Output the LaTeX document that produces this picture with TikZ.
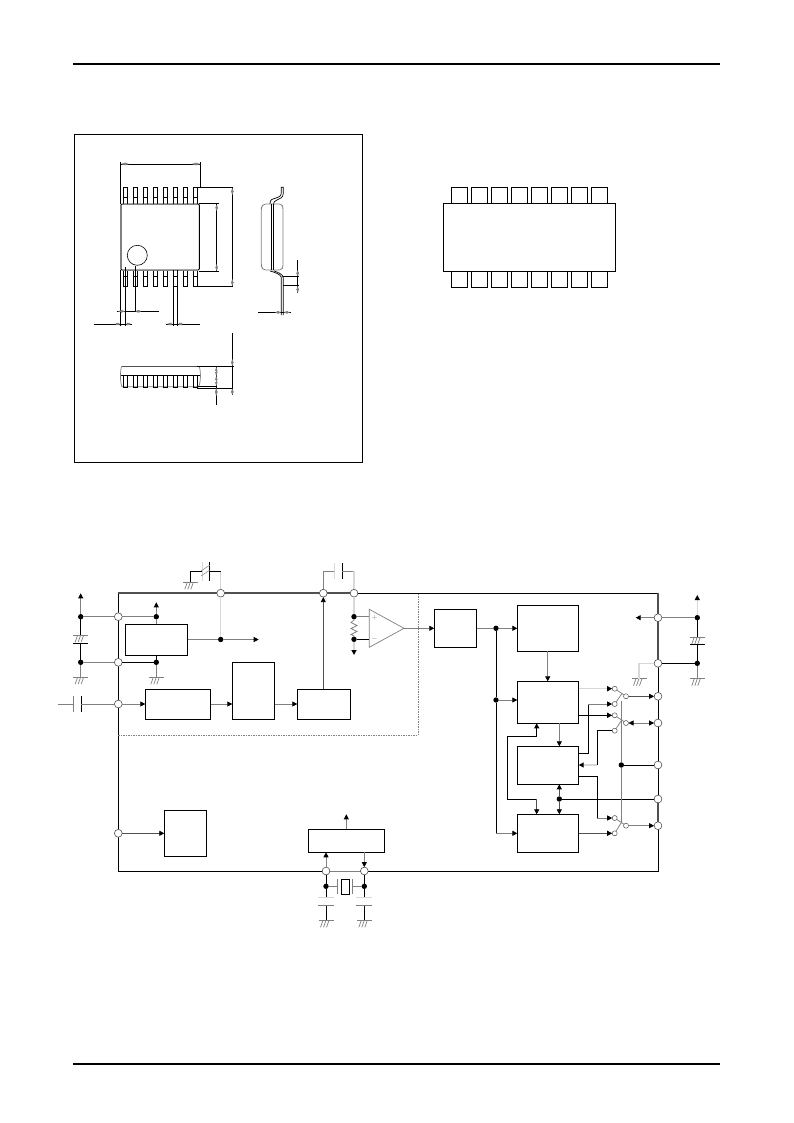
\documentclass[tikz,border=0pt]{standalone}
\usetikzlibrary{arrows.meta,calc}
\definecolor{gy}{HTML}{808080}
\definecolor{lg}{HTML}{D8D8D8}
\definecolor{dg}{HTML}{505050}
\tikzset{
 bk/.style={draw=black,line width=.9pt},
 gl/.style={draw=gy,line width=.75pt},
 ll/.style={draw=lg,line width=1.3pt},
 dl/.style={draw=dg,line width=1.6pt},
 ml/.style={draw=dg,line width=.8pt},
 arw/.style={-{Triangle[length=5pt,width=5pt,color=black]}},
 dim/.style={draw=black,line width=.8pt},
 dimtip/.style={draw=gy,line width=.4pt,{Triangle[length=4pt,width=2.4pt,color=gy]}-{Triangle[length=4pt,width=2.4pt,color=gy]}},
 blk/.style={draw=black,line width=.9pt,fill=white,inner sep=0pt,outer sep=0pt,rectangle},
 icpin/.style={draw=black,line width=.9pt,fill=white,inner sep=0pt,outer sep=0pt,rectangle},
 pkgpin/.style={draw=black,line width=.8pt,inner sep=0pt,outer sep=0pt,rectangle,minimum width=4pt},
 padc/.style={circle,draw=dg,line width=.6pt,fill=white,inner sep=0pt,outer sep=0pt,minimum size=7.8pt},
 swc/.style={circle,draw=dg,line width=.5pt,fill=white,inner sep=0pt,outer sep=0pt,minimum size=5pt},
 jdot/.style={circle,fill=black,inner sep=0pt,outer sep=0pt,minimum size=5.4pt},
 gndline/.style={draw=gy,line width=.7pt},
}
\newcommand{\bx}[6][blk]{\node[#1,minimum width={((#5)-(#3))*1pt},minimum height={((#6)-(#4))*1pt}] (#2) at ({((#3)+(#5))/2},{((#4)+(#6))/2}) {};}
\newcommand{\pad}[3]{\node[padc] (#1) at (#2,#3) {};}
\newcommand{\jd}[3]{\node[jdot] (#1) at (#2,#3) {};}
\newcommand{\sw}[3]{\node[swc] (#1) at (#2,#3) {};}
% ground symbol: named coordinate at the top centre
\newcommand{\gnd}[3]{\coordinate (#1) at (#2,#3);
 \draw[gndline] ($(#1)+(-7.5,0)$) -- ($(#1)+(7.5,0)$);
 \foreach \dx in {-3,0,3}{\draw[gndline] ($(#1)+(\dx,0)$) -- ($(#1)+(\dx-2.5,7)$);}}
\begin{document}
\begin{tikzpicture}[x=1pt,y=-1pt]
\useasboundingbox (0,0) rectangle (794,1123);
\fill[white] (0,0) rectangle (794,1123);
% page rules
\coordinate (ruleAl) at (73,64); \coordinate (ruleAr) at (720,64);
\coordinate (ruleBl) at (73,1063.5); \coordinate (ruleBr) at (720,1063.5);
\draw[line width=2pt] (ruleAl) -- (ruleAr);
\draw[line width=2pt] (ruleBl) -- (ruleBr);
% package frame
\draw[line width=.9pt] (74.5,134.5) rectangle (362,462);
% ---- top view
\foreach \i in {0,...,7}{
 \node[pkgpin,minimum height=16.7pt] at ({125.3+10*\i},195.7) {};
 \draw[line width=.7pt] ({123.3+10*\i},197) -- ({127.3+10*\i},197);
 \node[pkgpin,minimum height=16.7pt] at ({125.3+10*\i},278.4) {};
 \draw[line width=.7pt] ({123.3+10*\i},276.7) -- ({127.3+10*\i},276.7);
}
\draw[line width=.9pt,rounded corners=1pt,fill=white] (120.9,204) rectangle (199.3,270);
\draw[gy,line width=1.8pt] (120.7,205) -- (120.7,269);
\draw[gy,line width=.9pt] (122,204) -- (198,204) (122,270) -- (198,270);
\draw[line width=.6pt] (137.3,255.3) circle (10);
% top-view dimensions
\draw[dim] (120.5,162) -- (120.5,204) (200.5,162) -- (200.5,187.5);
\draw[dim] (120.5,164) -- (200.5,164);
\draw[dimtip] (121,164) -- (129,164);
\draw[dimtip] (192,164) -- (200,164);
\draw[dim] (197,187.7) -- (233,187.7) (197,286.7) -- (233,286.7);
\draw[dim] (232.3,187.7) -- (232.3,286.7);
\draw[dimtip] (232.3,188) -- (232.3,195);
\draw[dimtip] (232.3,279) -- (232.3,286);
\draw[dim] (199,203.7) -- (219,203.7) (199,271.5) -- (219,271.5);
\draw[dim] (216.7,204) -- (216.7,271);
\draw[dimtip] (216.7,204.5) -- (216.7,211);
\draw[dimtip] (216.7,264) -- (216.7,271);
\draw[dim] (120.5,270) -- (120.5,326) (125,267) -- (125,326) (135.3,266) -- (135.3,312);
\draw[dim] (117,311.3) -- (159,311.3);
\draw[dim] (93.7,324) -- (132,324);
\draw[dim] (173.3,270) -- (173.3,326) (177.7,270) -- (177.7,326);
\draw[dim] (166,324) -- (200,324);
\draw[dimtip] (115,324) -- (120,324);
\draw[dimtip] (125.5,324) -- (131,324);
\draw[dimtip] (167,324) -- (173,324);
\draw[dimtip] (178,324) -- (183,324);
\draw[dimtip] (118,311.3) -- (125,311.3);
\draw[dimtip] (135.5,311.3) -- (141,311.3);
% ---- side view
\draw[gy,line width=.7pt,rounded corners=3pt] (263,204) -- (261.3,208) -- (261.3,266) -- (263,270) -- (282,270) -- (283,266) -- (283,208) -- (282,204) -- cycle;
\draw[line width=.8pt] (271.7,204) -- (271.7,270);
\draw[line width=.8pt] (273.7,204) -- (273.7,270);
\draw[line width=.7pt] (270,204) .. controls (270,199) and (272,199.5) .. (276,198) .. controls (280,196.5) and (281.3,196) .. (281.3,192) -- (281.3,187.3) -- (283.3,187.3) -- (283.3,193) .. controls (283.3,198) and (280,198.5) .. (277,200) .. controls (274,201.5) and (273.7,202) .. (273.7,204);
\draw[line width=.7pt] (270,271) .. controls (274,272) and (280,274) .. (281.3,277) -- (281.3,315);
\draw[line width=.7pt] (274,271) .. controls (277,272) and (283.3,274) .. (283.3,278) -- (283.3,315);
\draw[dim] (258,312.3) -- (290.6,312.3);
\draw[dimtip] (275,312.3) -- (281,312.3);
\draw[dimtip] (283.6,312.3) -- (290,312.3);
\draw[dim] (283,276.7) -- (299,276.7) (283,285.7) -- (299,285.7);
\draw[dim] (297.7,260) -- (297.7,293);
\draw[dimtip] (297.7,270) -- (297.7,276.5);
\draw[dimtip] (297.7,286) -- (297.7,293);
% ---- front view
\draw[line width=.5pt,draw=dg] (121.7,366.3) -- (199,366.3);
\draw[gy,line width=.7pt] (121.7,366.3) .. controls (120,370) and (120,383) .. (122,386.7) -- (198.5,386.7) .. controls (201,383) and (201,370) .. (199,366.3);
\draw[line width=.9pt] (121,375.7) -- (200,375.7);
\foreach \i in {0,...,7}{
 \draw[line width=.8pt] ({123.3+10*\i},375.7) -- ({123.3+10*\i},387.7) -- ({127.3+10*\i},387.7) -- ({127.3+10*\i},375.7);
}
\draw[dim] (197.3,366.3) -- (233.7,366.3) (197.3,388.3) -- (233,388.3) (197.3,386) -- (217,386);
\draw[dim] (232.3,333.3) -- (232.3,395);
\draw[dim] (216.3,366) -- (216.3,405);
\draw[dimtip] (232.3,359) -- (232.3,366);
\draw[dimtip] (232.3,388.5) -- (232.3,395);
\draw[dimtip] (216.3,367) -- (216.3,376);
\draw[dimtip] (216.3,376) -- (216.3,386);
\draw[dimtip] (216.3,388) -- (216.3,396);
% ---- IC pin-out
\foreach \i in {0,...,7}{
 \bx[icpin]{ict\i}{451.3+20*\i}{187.3}{467.3+20*\i}{204}
 \bx[icpin]{icb\i}{451.3+20*\i}{271.5}{467.3+20*\i}{287.3}
}
\bx{icbody}{443.3}{203.3}{615.3}{271.7}
% ====== Block diagram
% outline
\coordinate (nw) at (118.3,593.2); \coordinate (sw) at (118.3,871);
\coordinate (ne) at (658,593.2); \coordinate (se) at (658,871);
\coordinate (tbrk) at (354,593.2); \coordinate (rbrk) at (658,663.3);
\draw[bk] (tbrk) -- (ne);
\draw[bk] (rbrk) -- (se) -- (sw) -- (nw);
\draw[dl] (nw) -- (tbrk);
\draw[dl] (ne) -- (rbrk);
\draw[dl] (658,799) -- (658,825.7);
\draw[gy,line width=.7pt,dash pattern=on 1.5pt off 1pt] (118.3,735) -- (418.3,735) -- (418.3,593.2);
% pads
\pad{pL1}{118.3}{616.7} \pad{pL2}{118.3}{662.3} \pad{pL3}{118.3}{704} \pad{pL4}{118.3}{833.3}
\pad{pT1}{220.7}{593.2} \pad{pT2}{323.3}{593.2} \pad{pT3}{354}{593.2}
\pad{pR1}{658}{617.7} \pad{pR2}{658}{663.3} \pad{pR3}{658}{696.3} \pad{pR4}{658}{723} \pad{pR5}{658}{765} \pad{pR6}{658}{799} \pad{pR7}{658}{825.7}
\pad{pB1}{326}{871} \pad{pB2}{364.3}{871}
% blocks
\bx{b1}{125.3}{624.3}{187.7}{655.3}
\bx{b2}{145.3}{689.3}{210.7}{719.3}
\bx{b3}{232.3}{662.3}{274.7}{719.3}
\bx{b4}{297.3}{689.3}{350.7}{719.3}
\bx{b5}{434.3}{609.3}{476.7}{647.3}
\bx{b6}{517.3}{605.3}{578.7}{651.3}
\bx{b7}{517.3}{681.3}{578.7}{723.3}
\bx{b8}{517.3}{746.3}{578.7}{784.3}
\bx{b9}{517.3}{814.3}{578.7}{852.3}
\bx{b10}{164.3}{810.3}{206.7}{856.7}
\bx{b11}{308.3}{829.3}{384.7}{852.3}
% junctions
\jd{jL1}{80.7}{616.7} \jd{jL2}{80.7}{662.3} \jd{jV}{156.3}{616.7} \jd{jG}{156.3}{662.3} \jd{jO}{220.7}{639.5}
\jd{jP}{354}{616.7} \jd{jM}{354}{639.3}
\jd{jA}{496}{628.3} \jd{jB}{496}{700} \jd{jC}{559.3}{799} \jd{jD}{621.3}{765}
\jd{jR1}{697.3}{617.7} \jd{jR2}{697.3}{663.3}
\jd{jX1}{326}{886.3} \jd{jX2}{364.3}{886.3}
% left supply
\coordinate (vccL) at (80.7,593.3);
\coordinate (cLt) at (80.7,635); \coordinate (cLb) at (80.7,643.3);
\draw[gl,arw] (jL1) -- (vccL);
\draw[bk] (jL1) -- (cLt);
\draw[bk] (cLb) -- (jL2);
\draw[gl] ($(cLt)+(-7.5,0)$) -- ($(cLt)+(7.5,0)$);
\foreach \dx in {-3,0,3}{\draw[gl] ($(cLt)+(\dx,0)$) -- ($(cLt)+(\dx-2.5,7)$);}
\draw[bk] ($(cLb)+(-7.5,0)$) -- ($(cLb)+(7.5,0)$);
\gnd{gL}{80.7}{677}
\draw[gl] (jL2) -- (gL);
\draw[gl] (jL1) -- (pL1);
\draw[gl] (pL1) -- (jV);
\draw[gl] (jL2) -- (pL2);
\draw[bk] (pL2) -- (jG);
\coordinate (vb1) at (156.3,602.3);
\draw[gl,arw] (jV) -- (vb1);
\draw[gl] (jV) -- (jV |- b1.north);
\draw[bk] (jG) -- (jG |- b1.south);
\gnd{gG}{156.3}{677.3}
\draw[gl] (jG) -- (gG);
% b1 output + tuning capacitor
\coordinate (outO) at (258.7,639.5);
\draw[gl] (b1.east |- jO) -- (jO);
\draw[gl,arw] (jO) -- (outO);
\draw[ll] (pT1) -- (jO);
\coordinate (cT1a) at (209,571.3); \coordinate (cT1b) at (202.3,571.3); \coordinate (cT1c) at (190.3,571.3);
\coordinate (cT1d) at (220.7,571.3);
\draw[ll] (pT1) -- (cT1d);
\draw[bk] (cT1d) -- (cT1a);
\draw[bk] (209,562) -- (209,581);
\draw[ll] (202.3,562) -- (202.3,581);
\draw[gl,line width=.5pt] (201,576) -- (210,570) (201,571) -- (210,565);
\draw[bk] (cT1b) -- (cT1c);
\gnd{gT1}{190.3}{582.3}
\draw[bk] (cT1c) -- (gT1);
% input coupling capacitor
\coordinate (inL) at (58.3,704); \coordinate (cIa) at (73.7,704); \coordinate (cIb) at (81.3,704);
\draw[gl] (inL) -- (cIa);
\draw[gl] (73.7,696) -- (73.7,712);
\draw[bk] (81.3,696) -- (81.3,712);
\draw[gl] (cIb) -- (pL3);
\draw[gl,arw] (pL3) -- (b2.west |- pL3);
\draw[gl,arw] (b2.east |- pL3) -- (b3.west |- pL3);
\draw[gl,arw] (b3.east |- pL3) -- (b4.west |- pL3);
\draw[ml,arw] (pT2 |- b4.north) -- (pT2);
% top capacitor
\coordinate (cT2a) at (323.3,571.3); \coordinate (cT2b) at (354,571.3);
\draw[gl] (pT2) -- (cT2a) -- (334.3,571.3);
\draw[ll] (334.3,563) -- (334.3,579);
\draw[bk] (342.3,563) -- (342.3,579);
\draw[gl] (342.3,571.3) -- (cT2b);
\draw[ll] (cT2b) -- (pT3);
\draw[ll] (pT3) -- (jP);
% bias resistor
\draw[gy,line width=.7pt] (jP) -- (354,620) -- (351,622.5) -- (357,625.5) -- (351,628.5) -- (357,631.5) -- (351,634.5) -- (354,636) -- (jM);
\coordinate (dnM) at (354,655);
\draw[ll,arw] (jM) -- (dnM);
% op amp
\coordinate (oaT) at (369.3,609.3); \coordinate (oaB) at (369.3,647.3); \coordinate (oaO) at (404,628.3);
\draw[gy,line width=.7pt] (oaT) -- (oaB) -- (oaO) -- cycle;
\draw[gl] (jP) -- (oaT |- jP);
\draw[bk] (jM) -- (oaT |- jM);
\node[gy,inner sep=0pt,font=\scriptsize] (oaPlus) at (374.5,618) {$+$};
\node[gy,inner sep=0pt,font=\scriptsize] (oaMinus) at (374.5,639) {$-$};
\draw[gl,arw] (oaO) -- (b5.west |- oaO);
\draw[gl] (b5.east |- jA) -- (jA);
\draw[gl,arw] (jA) -- (b6.west |- jA);
\draw[bk] (jA) -- (jB);
\draw[gl,arw] (jB) -- (b7.west |- jB);
\coordinate (b9in) at (496,833.3);
\draw[bk] (jB) -- (b9in);
\draw[gl,arw] (b9in) -- (b9.west |- b9in);
\coordinate (x67) at (547.7,651.3);
\draw[gl,arw] (b6.south -| x67) -- (b7.north -| x67);
\coordinate (x78) at (559.3,723.3);
\draw[gl,arw] (b7.south -| x78) -- (b8.north -| x78);
\draw[ml,arw] (jC) -- (jC |- b8.south);
\draw[ml,arw] (jC) -- (jC |- b9.north);
\draw[bk] (jC) -- (pR6);
% loop
\coordinate (lA) at (536.7,736); \coordinate (lB) at (507.3,736); \coordinate (lC) at (507.3,799); \coordinate (lD) at (536.7,799);
\draw[bk,arw] (lA) -- (lA |- b7.south);
\draw[bk] (lA) -- (lB) -- (lC) -- (lD);
\draw[ml,arw] (lD) -- (lD |- b9.north);
% switches
\sw{sA}{614.7}{688.7} \sw{sB}{614.7}{704} \sw{sc1}{626}{696.3}
\sw{sC}{614.7}{715.3} \sw{sD}{614.7}{730.7} \sw{sc2}{626}{723}
\sw{sE}{614.7}{818} \sw{sF}{614.7}{833.3} \sw{sc3}{626}{825.7}
\draw[ll,arw] (b7.east |- sA) -- (sA);
\coordinate (k1a) at (578.7,753.3); \coordinate (k1b) at (588.3,753.3); \coordinate (k1c) at (588.3,704);
\draw[bk] (k1a) -- (k1b) -- (k1c);
\draw[gl,arw] (k1c) -- (sB);
\draw[bk,arw] (b7.east |- sC) -- (sC);
\coordinate (k2a) at (597.3,730.7); \coordinate (k2b) at (597.3,765);
\draw[bk] (sD) -- (k2a) -- (k2b);
\draw[ll,arw] (k2b) -- (b8.east |- k2b);
\coordinate (k3a) at (578.7,776.3); \coordinate (k3b) at (597.3,776.3); \coordinate (k3c) at (597.3,818);
\draw[bk] (k3a) -- (k3b) -- (k3c);
\draw[gl,arw] (k3c) -- (sE);
\draw[ml,arw] (b9.east |- sF) -- (sF);
% blades
\draw[gl] (sA) -- (sc1);
\draw[gl] (sC) -- (sc2);
\draw[gl] (sE) -- (sc3);
\coordinate (bl1) at (622,693.5); \coordinate (bl2) at (622,719.5); \coordinate (bl3) at (622,821.5);
\draw[gl] (sB) -- (bl1);
\draw[gl] (sD) -- (bl2);
\draw[gl] (sF) -- (bl3);
% control line
\coordinate (ct1) at (621.3,701); \coordinate (ct2) at (621.3,823);
\draw[gl] (ct1) -- (jD) -- (ct2);
\draw[bk] (jD) -- (pR5);
% switch outputs
\draw[ml,arw] (sc1) -- (pR3);
\draw[gl,arw] ($(sc2)!.5!(pR4)$) -- (pR4);
\draw[gl,arw] ($(sc2)!.5!(pR4)$) -- (sc2);
\draw[gl,arw] (sc3) -- (pR7);
% right supply
\coordinate (vccR) at (697.3,595); \coordinate (outR) at (635.7,617.7);
\draw[ll,arw] (jR1) -- (vccR);
\draw[gl] (jR1) -- (pR1);
\draw[gl,arw] (pR1) -- (outR);
\coordinate (cRt) at (697.3,637); \coordinate (cRb) at (697.3,644);
\draw[bk] (jR1) -- (cRt);
\draw[bk] (cRb) -- (jR2);
\draw[gl] ($(cRt)+(-7.5,0)$) -- ($(cRt)+(7.5,0)$);
\foreach \dx in {-3,0,3}{\draw[gl] ($(cRt)+(\dx,0)$) -- ($(cRt)+(\dx-2.5,7)$);}
\draw[bk] ($(cRb)+(-7.5,0)$) -- ($(cRb)+(7.5,0)$);
\draw[bk] (pR2) -- (jR2);
\gnd{gR2}{697.3}{678.7}
\draw[gl] (jR2) -- (gR2);
\coordinate (kG) at (639,663.3);
\gnd{gR1}{639}{678.7}
\draw[ll] (pR2) -- (kG) -- (gR1);
% bottom-left block
\draw[ml,arw] (pL4) -- (b10.west |- pL4);
% oscillator
\coordinate (b11up) at (346.3,814.3);
\draw[gl,arw] (b11up |- b11.north) -- (b11up);
\draw[gl,arw] (pB1) -- (pB1 |- b11.south);
\draw[gl,arw] (pB2 |- b11.south) -- (pB2);
\draw[gl] (pB1) -- (pB2);
\draw[bk] (pB1) -- (jX1);
\draw[bk] (pB2) -- (jX2);
\coordinate (xtA) at (337.7,886.3); \coordinate (xtB) at (352.7,886.3);
\node[draw=black,line width=.9pt,inner sep=0pt,minimum width=8.4pt,minimum height=15.3pt] (xtal) at (345.5,886.6) {};
\draw[gl] (jX1) -- (xtA);
\draw[gl] (jX2) -- (xtB);
\draw[gl] (337.7,879) -- (337.7,894);
\draw[gl] (352.7,879) -- (352.7,894);
\foreach \n/\x in {1/326,2/364.3}{
 \coordinate (cXt\n) at (\x,897.7); \coordinate (cXb\n) at (\x,905.7);
 \draw[bk] (jX\n) -- (cXt\n);
 \draw[ll] ($(cXt\n)+(-8,0)$) -- ($(cXt\n)+(8,0)$);
 \draw[gl] ($(cXb\n)+(-8,0)$) -- ($(cXb\n)+(8,0)$);
 \gnd{gX\n}{\x}{920.3}
 \draw[bk] (cXb\n) -- (gX\n);
}
\end{tikzpicture}
\end{document}
